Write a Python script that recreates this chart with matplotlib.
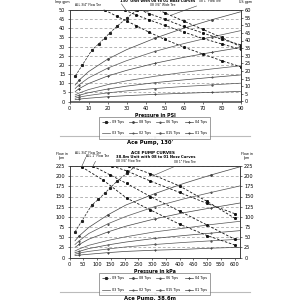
import matplotlib
matplotlib.use("Agg")
import matplotlib.pyplot as plt
from matplotlib.lines import Line2D

# ---- top chart: PSI / Imp gpm ----
psi = [3, 5, 10, 20, 30, 45, 60, 75, 90]
tip_labels = ["09 Tips", "08 Tips", "06 Tips", "04 Tips",
              "03 Tips", "02 Tips", "015 Tips", "01 Tips"]

tip09_psi = [3.1, 6.6, 11.9, 15.3, 18.5, 21.2, 25, 30.2, 35.4, 38]
tip09_gpm = [14, 19.7, 28.3, 31.4, 34.7, 37.5, 41.1, 45.7, 49.9, 51.7]

gpm_08 = [9.0, 11.6, 16.3, 23.1, 28.3, 34.6, 40.0, 44.7, 49.0]
gpm_06 = [7.1, 9.1, 12.9, 18.2, 22.3, 27.4, 31.6, 35.3, 38.7]
gpm_04 = [5.4, 7.0, 9.8, 13.9, 17.0, 20.9, 24.1, 26.9, 29.5]
gpm_03 = [3.6, 4.6, 6.5, 9.2, 11.3, 13.8, 15.9, 17.8, 19.5]
gpm_02 = [2.7, 3.4, 4.8, 6.8, 8.4, 10.3, 11.8, 13.2, 14.5]
gpm_015 = [1.8, 2.4, 3.3, 4.7, 5.8, 7.1, 8.2, 9.1, 10.0]
gpm_01 = [1.0, 1.3, 1.8, 2.6, 3.2, 3.9, 4.5, 5.0, 5.5]

pump_all34_psi = [18.5, 25, 30, 35, 42, 50, 60, 70, 80, 90]
pump_all34_gpm = [50, 46.5, 44, 41.5, 37.8, 34, 29.8, 26, 22.3, 19]
pump_all1_psi = [29, 35, 42, 50, 60, 70, 80, 90]
pump_all1_gpm = [50, 47.3, 44.6, 41.6, 38, 34.5, 31.5, 28.5]
pump_0834_psi = [35, 42, 50, 60, 70, 80, 90]
pump_0834_gpm = [51, 48, 45, 41, 37.5, 34, 31]
pump_081_psi = [45, 50, 60, 70, 80, 90]
pump_081_gpm = [51, 48.5, 44, 39.5, 35, 30]

# ---- bottom chart: kPa / lpm ----
kpa = [20, 35, 70, 140, 205, 310, 415, 515, 620]
tip09_kpa = [20, 45, 80, 105, 128, 146, 172, 208, 244, 262]
tip09_lpm = [63, 90, 128, 143, 158, 170, 187, 207, 227, 234]

lpm_08 = [41, 53, 74, 105, 129, 157, 182, 203, 223]
lpm_06 = [32, 41, 59, 83, 101, 125, 144, 160, 176]
lpm_04 = [25, 32, 45, 63, 77, 95, 110, 122, 134]
lpm_03 = [16, 21, 30, 42, 51, 63, 72, 81, 89]
lpm_02 = [12, 15, 22, 31, 38, 47, 54, 60, 66]
lpm_015 = [8, 11, 15, 21, 26, 32, 37, 41, 45]
lpm_01 = [5, 6, 8, 12, 15, 18, 20, 23, 25]

pumpm_all34_kpa = [44, 123, 208, 294, 400, 500, 600]
pumpm_all34_lpm = [223, 190, 146, 117, 82, 54, 31]
pumpm_all1_kpa = [85, 148, 208, 294, 400, 500, 600]
pumpm_all1_lpm = [225, 203, 182, 150, 114, 80, 45]
pumpm_0834_kpa = [155, 208, 294, 400, 500, 600]
pumpm_0834_lpm = [225, 213, 188, 160, 133, 108]
pumpm_081_kpa = [215, 294, 400, 500, 600]
pumpm_081_lpm = [225, 206, 176, 138, 97]

tip_styles = [("s", "--", "#222"), ("D", "-", "#444"), ("^", "-", "#555"),
              ("x", "-", "#444"), ("", "-", "#555"), (".", "-", "#444"),
              ("+", "-", "#555"), ("*", "-", "#444")]

FS = 3.6


def fx(px):
    return px / 300


def fy(py):
    return 1 - py / 300


def draw_panel(ax, p, tip09, curves, pumps, xlim, xstep, ylim, ystep, rlim, rstep):
    handles = []
    mk, ls, col = tip_styles[0]
    h, = ax.plot(tip09[0], tip09[1], ls=ls, color=col, lw=0.5, marker=mk, ms=1.2)
    handles.append(h)
    for vals, (mk, ls, col) in zip(curves, tip_styles[1:]):
        h, = ax.plot(p, vals, ls=ls, color=col, lw=0.5, marker=mk, ms=0.9,
                     markevery=(1, 2))
        handles.append(h)
    for px_, py_ in pumps:
        ax.plot(px_, py_, ls=(0, (3, 2)), color="#111", lw=0.6, marker="s", ms=1.1)
    ax.set_xlim(*xlim)
    ax.set_ylim(*ylim)
    ax.set_xticks(range(0, int(xlim[1]) + 1, xstep))
    ax.set_yticks(range(0, ylim[1] + 1, ystep))
    ax.yaxis.grid(True, ls=(0, (4, 3)), color="#999", lw=0.5)
    ax.tick_params(labelsize=FS, length=1.5, width=0.4, pad=1.5)
    for s in ax.spines.values():
        s.set_linewidth(0.5)
        s.set_color("#333")
    r = ax.twinx()
    r.set_ylim(*rlim)
    r.set_yticks(range(0, rlim[1] + 1, rstep))
    r.tick_params(labelsize=FS, length=1.5, width=0.4, pad=1.5)
    for s in r.spines.values():
        s.set_linewidth(0.5)
        s.set_color("#333")
    return handles


fig = plt.figure(figsize=(3, 3), dpi=100)

ax1 = fig.add_axes([fx(69.5), fy(101.5), (240.5 - 69.5) / 300, (101.5 - 10) / 300])
h1 = draw_panel(ax1, psi, (tip09_psi, tip09_gpm),
                [gpm_08, gpm_06, gpm_04, gpm_03, gpm_02, gpm_015, gpm_01],
                [(pump_all34_psi, pump_all34_gpm), (pump_all1_psi, pump_all1_gpm),
                 (pump_0834_psi, pump_0834_gpm), (pump_081_psi, pump_081_gpm)],
                (0, 90), 10, (0, 50), 5, (0, 60), 5)
ax1.set_xlabel("Pressure in PSI", fontsize=3.4, fontweight="bold", labelpad=2)

ax2 = fig.add_axes([fx(69.5), fy(257.5), (240 - 69.5) / 300, (257.5 - 166) / 300])
h2 = draw_panel(ax2, kpa, (tip09_kpa, tip09_lpm),
                [lpm_08, lpm_06, lpm_04, lpm_03, lpm_02, lpm_015, lpm_01],
                [(pumpm_all34_kpa, pumpm_all34_lpm), (pumpm_all1_kpa, pumpm_all1_lpm),
                 (pumpm_0834_kpa, pumpm_0834_lpm), (pumpm_081_kpa, pumpm_081_lpm)],
                (0, 620), 50, (0, 225), 25, (0, 225), 25)
ax2.set_xlabel("Pressure in kPa", fontsize=3.4, fontweight="bold", labelpad=2)

order = [0, 4, 1, 5, 2, 6, 3, 7]
for hs, top in ((h1, 115), (h2, 271.5)):
    leg = fig.legend([hs[i] for i in order], [tip_labels[i] for i in order],
                     ncol=4, loc="upper center", bbox_to_anchor=(fx(154.5), fy(top)),
                     fontsize=2.4, frameon=True, fancybox=False, edgecolor="#555",
                     handlelength=2.4, columnspacing=1.4, labelspacing=2.2,
                     borderpad=1.0, handletextpad=0.6)
    leg.get_frame().set_linewidth(0.5)

# header texts
fig.text(fx(157), fy(-3.5), "ACE PUMP CURVES", fontsize=3.0, fontweight="bold", ha="center")
fig.text(fx(158), fy(1.5), "130' Unit with 08 to 01 Nozz Curves", fontsize=2.7,
         fontweight="bold", ha="center", va="center")
fig.text(fx(62), fy(3.5), "Flow in\nImp gpm", fontsize=2.4, ha="center", va="bottom",
         linespacing=1.0)
fig.text(fx(246), fy(3.5), "Flow in\nUS gpm", fontsize=2.4, ha="center", va="bottom",
         linespacing=1.0)

fig.text(fx(153), fy(153), "ACE PUMP CURVES", fontsize=3.0, fontweight="bold",
         ha="center", va="center")
fig.text(fx(156), fy(157.5), "38.8m Unit with 08 to 01 Nozz Curves", fontsize=2.7,
         fontweight="bold", ha="center", va="center")
fig.text(fx(62), fy(160), "Flow in\nlpm", fontsize=2.4, ha="center", va="bottom",
         linespacing=1.0)
fig.text(fx(247), fy(160), "Flow in\nlpm", fontsize=2.4, ha="center", va="bottom",
         linespacing=1.0)

# leader labels
arrow = dict(arrowstyle="-", lw=0.4, color="#444", shrinkA=0, shrinkB=0)
top_labels = [("ALL 1\" Flow Tee", (30, 49.5), (118, -1)),
              ("ALL 3/4\" Flow Tee", (19, 49.8), (88, 5.3)),
              ("08 3/4\" Wide Tee", (40, 48.8), (163, 5.3)),
              ("08 1\" Flow Tee", (53, 47), (210, 1.2))]
for txt, xy, pos in top_labels:
    ax1.annotate(txt, xy=xy, xytext=(fx(pos[0]), fy(pos[1])), textcoords="figure fraction",
                 fontsize=2.2, ha="center", va="center", arrowprops=arrow,
                 annotation_clip=False)

bot_labels = [("ALL 3/4\" Flow Tee", (44, 223), (88, 152.5)),
              ("ALL 1\" Flow Tee", (85, 224), (98, 156.5)),
              ("08 3/4\" Flow Tee", (250, 224), (128, 161.5)),
              ("08 1\" Flow Tee", (300, 200), (185, 162))]
for txt, xy, pos in bot_labels:
    ax2.annotate(txt, xy=xy, xytext=(fx(pos[0]), fy(pos[1])), textcoords="figure fraction",
                 fontsize=2.2, ha="center", va="center", arrowprops=arrow,
                 annotation_clip=False)

# separators and pump titles
for ry, unit, title, ty in ((135.5, "ft", "Ace Pump, 130'", 142),
                           (291.5, "m", "Ace Pump, 38.6m", 298.5)):
    fig.add_artist(Line2D([fx(60), fx(250)], [fy(ry), fy(ry)], color="#bbb", lw=0.8))
    fig.text(fx(152), fy(ry + 2.5), "\u2014\u2014  " + unit, fontsize=1.8,
             ha="center", va="center", color="#333")
    fig.text(fx(150), fy(ty), title, fontsize=3.8, fontweight="bold",
             ha="center", va="center")

fig.savefig("out.png", dpi=100, facecolor="white")
